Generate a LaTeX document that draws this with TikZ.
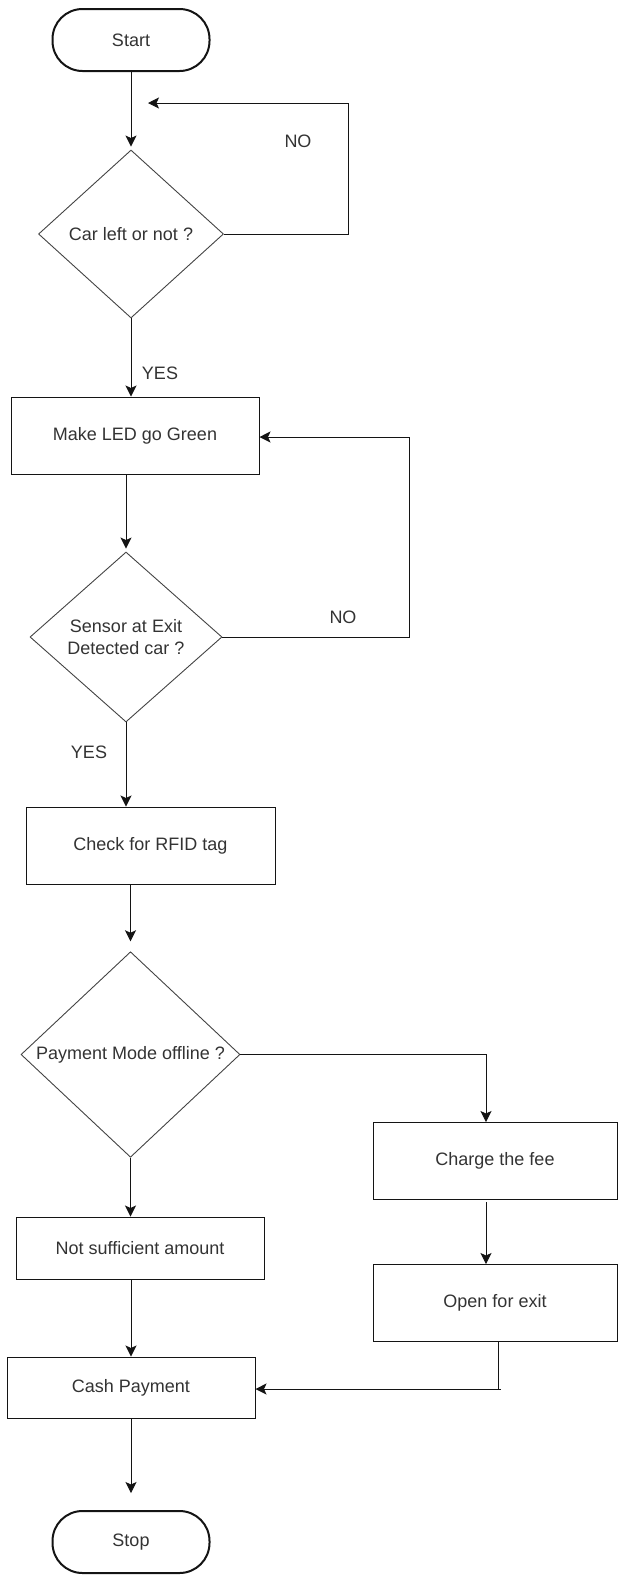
\documentclass[tikz,border=0pt]{standalone}
\usepackage{fontspec}
\setmainfont{Liberation Sans}
\usetikzlibrary{shapes.geometric,arrows.meta}
\definecolor{txt}{RGB}{51,51,51}
\definecolor{ln}{RGB}{20,20,20}
\begin{document}
\begin{tikzpicture}[x=1pt,y=-1pt,
  every node/.style={font=\fontsize{18}{22}\selectfont, text=txt},
  term/.style={draw=ln, line width=2pt, rounded corners=30pt, minimum width=157pt, minimum height=62pt, inner sep=0pt},
  proc/.style={draw=ln, line width=1pt, minimum width=248pt, minimum height=77pt, inner sep=0pt},
  dec/.style={draw=ln!80!white, line width=0.9pt, diamond, inner sep=0pt, align=center},
  lbl/.style={inner sep=0pt},
  conn/.style={draw=ln, line width=1pt},
  arr/.style={conn, -{Stealth[length=11pt,width=11pt,inset=2.5pt]}}
]
\useasboundingbox (0,0) rectangle (618,1575);

% nodes
\node[term] (start) at (131,40) {Start};
\node[dec, minimum width=185pt, minimum height=168pt] (d1) at (131,234) {Car left or not ?};
\node[proc] (make) at (135,435.5) {Make LED go Green};
\node[dec, minimum width=192pt, minimum height=170pt] (d2) at (126,637) {Sensor at Exit\\Detected car ?};
\node[proc, minimum width=249pt] (check) at (150.5,845.5) {Check for RFID tag};
\node[dec, minimum width=219pt, minimum height=169pt] (d3) at (130.5,1054.5) {Payment Mode offline ?};
\node[proc, minimum width=244pt] (charge) at (495,1160.5) {Charge the fee};
\node[proc, minimum width=244pt] (open) at (495,1302.5) {Open for exit};
\node[proc, minimum height=62pt] (notsuf) at (140,1248) {Not sufficient amount};
\node[proc, minimum height=61pt] (cash) at (131,1387.5) {Cash Payment};
\node[term] (stop) at (131,1542) {Stop};

% labels
\node[lbl] (no1) at (298,141) {NO};
\node[lbl] (yes1) at (160,373) {YES};
\node[lbl] (no2) at (343,617) {NO};
\node[lbl] (yes2) at (89,752) {YES};

% helper coordinates
\coordinate (l1end) at (148,103);
\coordinate (l1corner) at (348,103);
\coordinate (l2corner) at (409,437);
\coordinate (j) at (501,1389);

% connectors
\draw[arr, shorten >=3pt] (start.south) -- (d1.north);
\draw[arr] (d1.east) -- (d1.east -| l1corner) -- (l1corner) -- (l1end);
\draw[arr] (d1.south) -- (d1.south |- make.north);
\draw[arr, shorten >=3pt] (d2.north |- make.south) -- (d2.north);
\draw[arr] (d2.east) -- (d2.east -| l2corner) -- (l2corner) -- (make.east |- l2corner);
\draw[arr] (d2.south) -- (d2.south |- check.north);
\draw[arr, shorten >=10pt] (d3.north |- check.south) -- (d3.north);
\draw[arr] (d3.east) -- (486,1054.5) -- (486,1122);
\draw[arr] (d3.south) -- (d3.south |- notsuf.north);
\draw[arr, shorten <=3pt] (486,1199) -- (486,1264);
\draw[conn] ([xshift=3pt]open.south) -- ([xshift=3pt]open.south |- j) -- (j);
\draw[arr] ([xshift=3pt]open.south |- j) -- (cash.east |- j);
\draw[arr] (notsuf.south -| cash.north) -- (cash.north);
\draw[arr, shorten >=17pt] (cash.south) -- (stop.north);
\end{tikzpicture}
\end{document}
